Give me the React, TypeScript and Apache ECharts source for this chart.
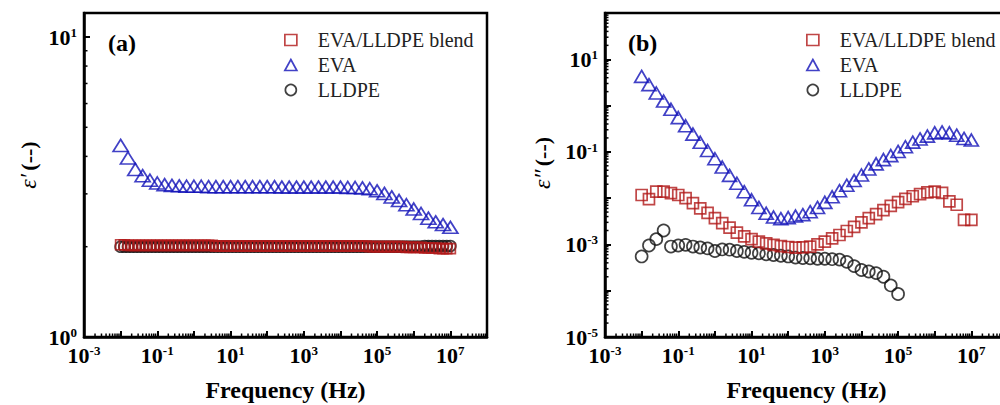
import React, { useEffect, useRef } from 'react';
import * as echarts from 'echarts';

// log10 of frequency (Hz)
const logFreq5 = [-2, -1.8, -1.6, -1.4, -1.2, -1, -0.8, -0.6, -0.4, -0.2, 0, 0.2, 0.4, 0.6, 0.8, 1, 1.2, 1.4, 1.6, 1.8, 2, 2.2, 2.4, 2.6, 2.8, 3, 3.2, 3.4, 3.6, 3.8, 4, 4.2, 4.4, 4.6, 4.8, 5, 5.2, 5.4, 5.6, 5.8, 6, 6.2, 6.4, 6.6, 6.8, 7];
const logFreq10 = [
  -2, -1.9, -1.8, -1.7, -1.6, -1.5, -1.4, -1.3, -1.2, -1.1,
  -1, -0.9, -0.8, -0.7, -0.6, -0.5, -0.4, -0.3, -0.2, -0.1,
  0, 0.1, 0.2, 0.3, 0.4, 0.5, 0.6, 0.7, 0.8, 0.9,
  1, 1.1, 1.2, 1.3, 1.4, 1.5, 1.6, 1.7, 1.8, 1.9,
  2, 2.1, 2.2, 2.3, 2.4, 2.5, 2.6, 2.7, 2.8, 2.9,
  3, 3.1, 3.2, 3.3, 3.4, 3.5, 3.6, 3.7, 3.8, 3.9,
  4, 4.1, 4.2, 4.3, 4.4, 4.5, 4.6, 4.7, 4.8, 4.9,
  5, 5.1, 5.2, 5.3, 5.4, 5.5, 5.6, 5.7, 5.8, 5.9,
  6, 6.1, 6.2, 6.3, 6.4, 6.5, 6.6, 6.7, 6.8, 6.9,
  7,
];
const logFreqLLDPEb = [-2, -1.8, -1.6, -1.4, -1.2, -1, -0.8, -0.6, -0.4, -0.2, 0, 0.2, 0.4, 0.6, 0.8, 1, 1.2, 1.4, 1.6, 1.8, 2, 2.2, 2.4, 2.6, 2.8, 3, 3.2, 3.4, 3.6, 3.8, 4, 4.2, 4.4, 4.6, 4.8, 5];

// (a) real permittivity
const epsRealBlend = [
  2.03, 2.03, 2.02, 2.02, 2.02, 2.02, 2.02, 2.02, 2.02, 2.02,
  2.02, 2.02, 2.02, 2.02, 2.02, 2.02, 2.02, 2.02, 2.02, 2.02,
  2.02, 2.02, 2.02, 2.02, 2.02, 2.02, 2.01, 2.01, 2.01, 2.01,
  2.01, 2.01, 2.01, 2.01, 2.01, 2.01, 2.01, 2.01, 2.01, 2.01,
  2.01, 2.01, 2.01, 2.01, 2.01, 2.01, 2.01, 2.01, 2.01, 2.01,
  2.01, 2.01, 2.01, 2.01, 2.01, 2.01, 2.01, 2.01, 2.01, 2.01,
  2.01, 2.01, 2.01, 2.01, 2.01, 2.01, 2.01, 2.01, 2.0, 2.0,
  2.0, 2.0, 2.0, 2.0, 2.0, 2.0, 2.0, 2.0, 1.99, 1.99,
  1.99, 1.99, 1.99, 1.98, 1.98, 1.98, 1.98, 1.97, 1.97, 1.97,
  1.97,
];
const epsRealEVA = [
  4.35, 3.95, 3.62, 3.45, 3.33, 3.26, 3.22, 3.2, 3.19, 3.18,
  3.18, 3.18, 3.17, 3.17, 3.17, 3.17, 3.17, 3.17, 3.17, 3.17, 3.17, 3.17,
  3.16, 3.16, 3.16, 3.16, 3.16, 3.16, 3.16, 3.16, 3.16,
  3.15, 3.15, 3.14, 3.12, 3.07, 3.01, 2.93, 2.85, 2.76, 2.67, 2.58, 2.49, 2.42, 2.37, 2.32,
];
const epsRealLLDPE = [
  2.0, 2.0, 2.0, 2.0, 2.0, 2.0, 2.0, 2.0, 2.0, 2.0,
  2.0, 2.0, 2.0, 2.0, 2.0, 2.0, 2.0, 2.0, 2.0, 2.0,
  2.0, 2.0, 2.0, 2.0, 2.0, 2.0, 2.0, 2.0, 2.0, 2.0,
  2.0, 2.0, 2.0, 2.0, 2.0, 2.0, 2.0, 2.0, 2.0, 2.0,
  2.0, 2.0, 2.0, 2.0, 2.0, 2.0, 2.0, 2.0, 2.0, 2.0,
  2.0, 2.0, 2.0, 2.0, 2.0, 2.0, 2.0, 2.0, 2.0, 2.0,
  2.0, 2.0, 2.0, 2.0, 2.0, 2.0, 2.0, 2.0, 2.0, 2.0,
  2.0, 2.0, 2.0, 2.0, 2.0, 2.0, 2.0, 2.0, 2.0, 2.0,
  2.0, 2.0, 2.0, 2.01, 2.01, 2.01, 2.01, 2.01, 2.01, 2.01,
  2.01,
];

// (b) imaginary permittivity
const epsImagBlend = [
  1.17e-2, 9.5e-3, 1.38e-2, 1.38e-2, 1.28e-2, 1.17e-2, 1.0e-2, 7.8e-3, 6.0e-3, 4.8e-3,
  3.7e-3, 2.9e-3, 2.3e-3, 1.8e-3, 1.5e-3, 1.3e-3, 1.15e-3, 1.05e-3, 9.8e-4, 9.2e-4,
  8.8e-4, 8.5e-4, 8.6e-4, 9.0e-4, 1.0e-3, 1.15e-3, 1.35e-3, 1.6e-3, 1.95e-3, 2.4e-3,
  3.0e-3, 3.7e-3, 4.5e-3, 5.5e-3, 6.8e-3, 8.2e-3, 9.6e-3, 1.1e-2, 1.22e-2, 1.33e-2,
  1.38e-2, 1.3e-2, 8.5e-3, 7.2e-3, 3.4e-3, 3.4e-3,
];
const epsImagEVA = [
  4.27, 2.83, 1.87, 1.25, 0.83, 0.55, 0.365, 0.242, 0.161, 0.107,
  0.071, 0.047, 0.031, 0.021, 0.0138, 0.0092, 0.0063, 0.0047, 0.0039, 0.0036,
  0.0038, 0.0041, 0.0044, 0.0051, 0.0063, 0.0081, 0.0107, 0.0145, 0.019, 0.024,
  0.0316, 0.0427, 0.055, 0.068, 0.083, 0.102, 0.129, 0.162, 0.19, 0.219,
  0.257, 0.269, 0.257, 0.229, 0.195, 0.18,
];
const epsImagLLDPE = [
  5.5e-4, 9.5e-4, 1.3e-3, 2.0e-3, 9.0e-4, 9.5e-4, 9.8e-4, 9.0e-4, 8.6e-4, 8.2e-4,
  7.2e-4, 7.8e-4, 7.7e-4, 7.2e-4, 6.9e-4, 6.6e-4, 6.4e-4, 6.1e-4, 5.9e-4, 5.7e-4,
  5.5e-4, 5.2e-4, 5.1e-4, 5.0e-4, 4.9e-4, 4.9e-4, 4.8e-4, 4.7e-4, 4.2e-4, 3.4e-4,
  2.8e-4, 2.6e-4, 2.4e-4, 2.0e-4, 1.3e-4, 8.5e-5,
];

const seriesNames = ['EVA/LLDPE blend', 'EVA', 'LLDPE'];
const panelLabels = ['(a)', '(b)'];
const xTitle = 'Frequency (Hz)';
const yTitles = ['ε′', 'ε″'];
const yUnit = '(--)';
const xDecades = [-3, -2, -1, 0, 1, 2, 3, 4, 5, 6, 7];
const yDecadesA = [0];
const yDecadesB = [-5, -4, -3, -2, -1, 0, 1];
const minorMantissas = [2, 3, 4, 5, 6, 7, 8, 9];

const RED = '#b01818';
const BLUE = '#1212b8';
const BLACK = '#111111';
const SERIF = "'Liberation Serif', 'Times New Roman', serif";

const pts = (lx: number[], v: number[]) => lx.map((x, i) => [x, Math.log10(v[i])]);

const minorPositions = (decades: number[]) => {
  const out: number[] = [];
  decades.forEach((d) => minorMantissas.forEach((m) => out.push(d + Math.log10(m))));
  return out;
};

const richLabel = {
  b: { fontFamily: SERIF, fontWeight: 'bold', fontSize: 22, color: '#000', lineHeight: 22 },
  s: { fontFamily: SERIF, fontWeight: 'bold', fontSize: 13, color: '#000', lineHeight: 13, verticalAlign: 'top' },
};

const powLabel = (oddOnly: boolean) => (v: number) => {
  const n = Math.round(v);
  if (Math.abs(v - n) > 1e-6) return '';
  if (oddOnly && Math.abs(n % 2) !== 1) return '';
  return `{b|10}{s|${n}}`;
};

export default function App() {
  const ref = useRef<HTMLDivElement>(null);

  useEffect(() => {
    if (!ref.current) return;
    const chart = echarts.init(ref.current, undefined, { renderer: 'svg' });

    const axisLineStyle = { show: true, onZero: false, lineStyle: { color: '#000', width: 2.5 } };
    const tickStyle = { show: true, inside: true, length: 6, lineStyle: { color: '#000', width: 2 } };

    const mkX = (gi: number) => ({
      type: 'value',
      gridIndex: gi,
      min: -3,
      max: 8,
      interval: 1,
      axisLine: axisLineStyle,
      axisTick: tickStyle,
      splitLine: { show: false },
      axisLabel: { formatter: powLabel(true), margin: 7, rich: richLabel },
      name: xTitle,
      nameLocation: 'middle',
      nameGap: 41,
      nameTextStyle: { fontFamily: SERIF, fontWeight: 'bold', fontSize: 24, color: '#000' },
    });

    const mkY = (gi: number, min: number, max: number, oddOnly: boolean) => ({
      type: 'value',
      gridIndex: gi,
      min,
      max,
      interval: 1,
      axisLine: axisLineStyle,
      axisTick: tickStyle,
      splitLine: { show: false },
      axisLabel: { formatter: powLabel(oddOnly), margin: 7, rich: richLabel },
    });

    const scatter = (gi: number, name: string, data: number[][], symbol: string, size: any, color: string) => ({
      type: 'scatter',
      name,
      xAxisIndex: gi,
      yAxisIndex: gi,
      data,
      symbol,
      symbolSize: size,
      itemStyle: { color: 'transparent', borderColor: color, borderWidth: 1.7 },
      z: 3,
    });

    const minorTicks = (gi: number, axis: 'x' | 'y', values: number[], base: number, len: number) => ({
      type: 'custom',
      xAxisIndex: gi,
      yAxisIndex: gi,
      silent: true,
      z: 6,
      data: values.map((v) => (axis === 'x' ? [v, base] : [base, v])),
      renderItem: (_p: any, api: any) => {
        const p = api.coord([api.value(0), api.value(1)]);
        return axis === 'x'
          ? { type: 'line', shape: { x1: p[0], y1: p[1], x2: p[0], y2: p[1] - len }, style: { stroke: '#000', lineWidth: 1.5 } }
          : { type: 'line', shape: { x1: p[0], y1: p[1], x2: p[0] + len, y2: p[1] }, style: { stroke: '#000', lineWidth: 1.5 } };
      },
    });

    const legendData = [
      { name: seriesNames[0], icon: 'rect', itemStyle: { color: 'transparent', borderColor: RED, borderWidth: 1.7 } },
      { name: seriesNames[1], icon: 'triangle', itemStyle: { color: 'transparent', borderColor: BLUE, borderWidth: 1.7 } },
      { name: seriesNames[2], icon: 'circle', itemStyle: { color: 'transparent', borderColor: BLACK, borderWidth: 1.7 } },
    ];
    const legendBase = {
      orient: 'vertical',
      top: 25,
      itemWidth: 12,
      itemHeight: 11,
      itemGap: 5,
      selectedMode: false,
      data: legendData,
      formatter: (name: string) => `{g|}${name}`,
      textStyle: {
        fontFamily: SERIF,
        fontSize: 20,
        lineHeight: 20,
        color: '#222',
        rich: { g: { width: 16, fontSize: 20, lineHeight: 20 } },
      },
    };

    const yTitleText = (i: number, x: number, y: number) => ({
      type: 'text',
      x,
      y,
      rotation: Math.PI / 2,
      style: {
        text: `{e|${yTitles[i]}} {p|${yUnit}}`,
        align: 'center',
        verticalAlign: 'middle',
        rich: {
          e: { fontFamily: SERIF, fontSize: 24, fontStyle: 'italic', fill: '#000' },
          p: { fontFamily: SERIF, fontSize: 22, fontWeight: 'bold', fill: '#000' },
        },
      },
    });

    const gridBase = {
      top: 13,
      width: 403,
      height: 324,
      show: true,
      borderColor: '#000',
      borderWidth: 2.5,
      containLabel: false,
      outerBoundsMode: 'none',
    };

    const option: any = {
      animation: false,
      backgroundColor: '#fff',
      grid: [
        { ...gridBase, left: 84 },
        { ...gridBase, left: 605 },
      ],
      xAxis: [mkX(0), mkX(1)],
      yAxis: [mkY(0, 0, 1.08, false), mkY(1, -5, 2, true)],
      legend: [
        { ...legendBase, left: 279 },
        { ...legendBase, left: 801 },
      ],
      graphic: [
        { type: 'text', x: 108, y: 43, style: { text: panelLabels[0], fontFamily: SERIF, fontWeight: 'bold', fontSize: 24, fill: '#000', verticalAlign: 'middle' } },
        { type: 'text', x: 628, y: 43, style: { text: panelLabels[1], fontFamily: SERIF, fontWeight: 'bold', fontSize: 24, fill: '#000', verticalAlign: 'middle' } },
        yTitleText(0, 28, 165),
        yTitleText(1, 542, 163),
      ],
      series: [
        scatter(0, seriesNames[2], pts(logFreq10, epsRealLLDPE), 'circle', 11, BLACK),
        scatter(0, seriesNames[1], pts(logFreq5, epsRealEVA), 'triangle', [15, 12], BLUE),
        scatter(0, seriesNames[0], pts(logFreq10, epsRealBlend), 'rect', 10, RED),
        scatter(1, seriesNames[2], pts(logFreqLLDPEb, epsImagLLDPE), 'circle', 12, BLACK),
        scatter(1, seriesNames[1], pts(logFreq5, epsImagEVA), 'triangle', [14, 12], BLUE),
        scatter(1, seriesNames[0], pts(logFreq5, epsImagBlend), 'rect', 11, RED),
        minorTicks(0, 'x', minorPositions(xDecades), 0, 3.5),
        minorTicks(0, 'y', minorPositions(yDecadesA), -3, 3.5),
        minorTicks(1, 'x', minorPositions(xDecades), -5, 3.5),
        minorTicks(1, 'y', minorPositions(yDecadesB), -3, 3.5),
      ],
    };

    chart.setOption(option);
    return () => chart.dispose();
  }, []);

  return (
    <div
      ref={ref}
      style={{ position: 'absolute', left: 0, top: 0, width: 1000, height: 405, background: '#fff' }}
    />
  );
}
